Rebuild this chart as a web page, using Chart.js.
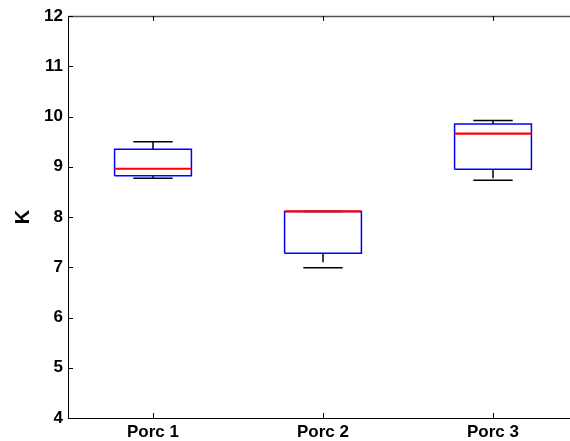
<!DOCTYPE html>
<html>
<head>
<meta charset="utf-8">
<script src="https://cdn.jsdelivr.net/npm/chart.js@4.4.0/dist/chart.umd.min.js"></script>
<style>
  html, body { margin: 0; padding: 0; background: #fff; overflow: hidden; }
  #wrap { width: 580px; height: 441px; }
</style>
</head>
<body>
<div id="wrap"><canvas id="chart" width="580" height="441"></canvas></div>
<script>
// Box plot data
const categories = ['Porc 1', 'Porc 2', 'Porc 3'];
const lowerWhisker = [8.77, 6.99, 8.73];
const lowerQuartile = [8.82, 7.28, 8.95];
const medians = [8.96, 8.11, 9.66];
const upperQuartile = [9.35, 8.11, 9.85];
const upperWhisker = [9.50, 8.11, 9.92];
const yTicks = [4, 5, 6, 7, 8, 9, 10, 11, 12];

const BOX_HALF = 0.226;
const CAP_HALF = 0.116;
const FONT = "'Liberation Sans', Arial, Helvetica, sans-serif";

function lineSet(points, color, order, width, dash) {
    return {
        data: points,
        showLine: true,
        borderColor: color,
        borderWidth: width,
        borderDash: dash || [],
        pointRadius: 0,
        tension: 0,
        fill: false,
        order: order
    };
}

// Build the box plot out of plain line datasets
const datasets = [];
categories.forEach((cat, i) => {
    const x = i + 1;
    // median
    datasets.push(lineSet([{x: x - BOX_HALF, y: medians[i]}, {x: x + BOX_HALF, y: medians[i]}], '#ff0000', 0, 2.2));
    // box
    datasets.push(lineSet([
        {x: x - BOX_HALF, y: lowerQuartile[i]},
        {x: x + BOX_HALF, y: lowerQuartile[i]},
        {x: x + BOX_HALF, y: upperQuartile[i]},
        {x: x - BOX_HALF, y: upperQuartile[i]},
        {x: x - BOX_HALF, y: lowerQuartile[i]}
    ], '#0000ff', 1, 1.5));
    // caps
    datasets.push(lineSet([{x: x - CAP_HALF, y: upperWhisker[i]}, {x: x + CAP_HALF, y: upperWhisker[i]}], '#000000', 2, 1.5));
    datasets.push(lineSet([{x: x - CAP_HALF, y: lowerWhisker[i]}, {x: x + CAP_HALF, y: lowerWhisker[i]}], '#000000', 2, 1.5));
    // whiskers (dashed)
    datasets.push(lineSet([{x: x, y: upperQuartile[i]}, {x: x, y: upperWhisker[i]}], '#000000', 3, 1.5, [9, 5]));
    datasets.push(lineSet([{x: x, y: lowerQuartile[i]}, {x: x, y: lowerWhisker[i]}], '#000000', 3, 1.5, [9, 5]));
});

// Inward tick marks and the top frame line
const innerTicks = {
    id: 'innerTicks',
    afterDatasetsDraw(chart) {
        const {ctx, chartArea, scales} = chart;
        ctx.save();
        ctx.lineWidth = 1.5;
        ctx.strokeStyle = '#555';
        ctx.beginPath();
        ctx.moveTo(chartArea.left, chartArea.top + 0.5);
        ctx.lineTo(chartArea.right, chartArea.top + 0.5);
        ctx.stroke();
        ctx.lineWidth = 1;
        ctx.strokeStyle = '#000';
        ctx.beginPath();
        scales.y.ticks.forEach(t => {
            const y = Math.round(scales.y.getPixelForValue(t.value)) + 0.5;
            ctx.moveTo(chartArea.left, y);
            ctx.lineTo(chartArea.left + 5, y);
        });
        scales.x.ticks.forEach(t => {
            const x = Math.round(scales.x.getPixelForValue(t.value)) + 0.5;
            ctx.moveTo(x, chartArea.bottom);
            ctx.lineTo(x, chartArea.bottom - 5);
            ctx.moveTo(x, chartArea.top);
            ctx.lineTo(x, chartArea.top + 5);
        });
        ctx.stroke();
        ctx.restore();
    }
};

const ctx = document.getElementById('chart').getContext('2d');
new Chart(ctx, {
    type: 'scatter',
    data: { datasets: datasets },
    options: {
        responsive: false,
        animation: false,
        layout: { padding: { top: 16, right: 2, left: 0, bottom: 0 } },
        plugins: {
            legend: { display: false },
            tooltip: { enabled: false }
        },
        scales: {
            x: {
                type: 'linear',
                min: 0.5,
                max: 3.5,
                afterBuildTicks: s => { s.ticks = categories.map((c, i) => ({ value: i + 1 })); },
                afterFit: s => { s.height = 23; },
                grid: { drawOnChartArea: false, drawTicks: false },
                border: { color: '#000', width: 1 },
                ticks: {
                    callback: v => categories[Math.round(v) - 1],
                    color: '#000',
                    padding: 4,
                    maxRotation: 0,
                    autoSkip: false,
                    font: { family: FONT, size: 17, weight: 'bold' }
                }
            },
            y: {
                min: 4,
                max: 12,
                afterBuildTicks: s => { s.ticks = yTicks.map(v => ({ value: v })); },
                afterFit: s => { s.width = 68; },
                grid: { drawOnChartArea: false, drawTicks: false },
                border: { color: '#000', width: 1 },
                ticks: {
                    color: '#000',
                    padding: 5,
                    font: { family: FONT, size: 17, weight: 'bold' }
                },
                title: {
                    display: true,
                    text: 'K',
                    color: '#000',
                    padding: { top: 11, bottom: 0 },
                    font: { family: FONT, size: 20, weight: 'bold' }
                }
            }
        }
    },
    plugins: [innerTicks]
});
</script>
</body>
</html>
